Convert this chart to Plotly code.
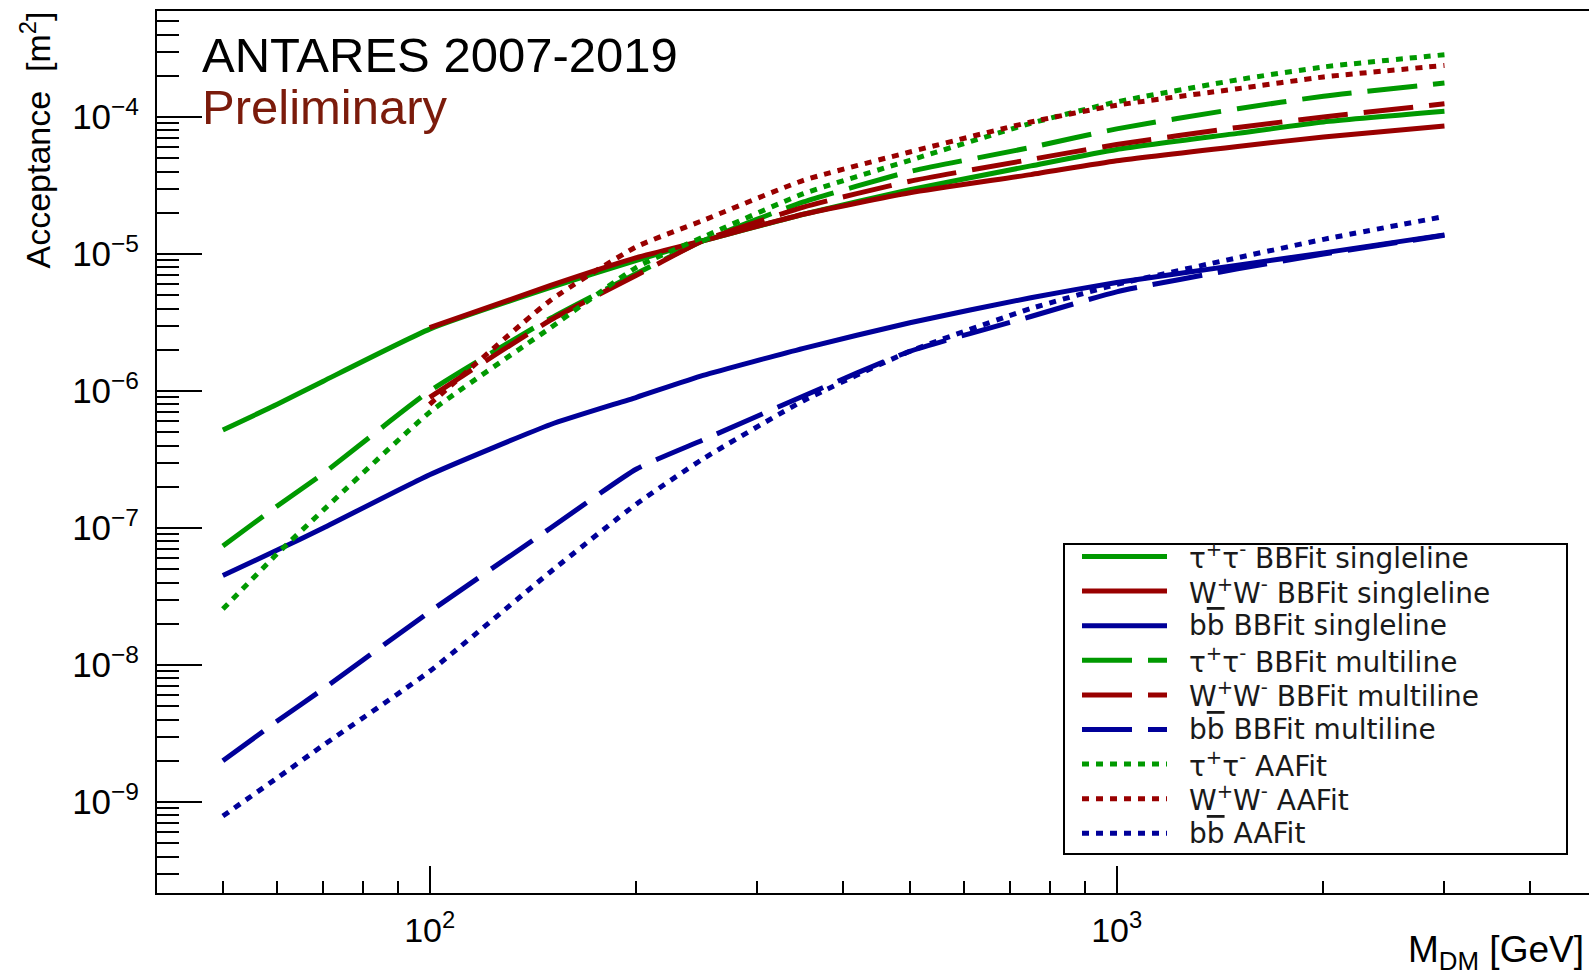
import math
import plotly.graph_objects as go

# Dark-matter mass grid [GeV]
mass_gev = [50, 60, 70, 100, 150, 200, 250, 350, 500, 750, 1000, 1500, 2000, 3000]

# Acceptance [m^2] per annihilation channel and reconstruction
tautau_bbfit_single = [5.2e-7, 8.0e-7, 1.18e-6, 2.83e-6, 5.7e-6, 9.0e-6, 1.25e-5, 1.95e-5, 2.95e-5, 4.4e-5, 5.8e-5, 7.6e-5, 9.2e-5, 1.1e-4]
ww_bbfit_single = [None, None, None, 2.9e-6, 5.9e-6, 9.4e-6, 1.25e-5, 1.95e-5, 2.8e-5, 3.8e-5, 4.8e-5, 6.1e-5, 7.15e-5, 8.6e-5]
bb_bbfit_single = [4.5e-8, 6.9e-8, 1.0e-7, 2.45e-7, 5.7e-7, 9.0e-7, 1.3e-6, 2.05e-6, 3.15e-6, 4.8e-6, 6.2e-6, 8.3e-6, 1.02e-5, 1.38e-5]
tautau_bbfit_multi = [7.4e-8, 1.45e-7, 2.5e-7, 1.0e-6, 3.4e-6, 7.2e-6, 1.25e-5, 2.4e-5, 4.0e-5, 6.0e-5, 8.2e-5, 1.15e-4, 1.42e-4, 1.77e-4]
ww_bbfit_multi = [None, None, None, 9.0e-7, 3.3e-6, 7.0e-6, 1.25e-5, 2.2e-5, 3.4e-5, 4.9e-5, 6.3e-5, 8.4e-5, 1.0e-4, 1.25e-4]
bb_bbfit_multi = [2.0e-9, 3.9e-9, 6.7e-9, 2.45e-8, 1.0e-7, 2.7e-7, 4.4e-7, 9.2e-7, 1.95e-6, 3.5e-6, 5.3e-6, 7.8e-6, 1.0e-5, 1.37e-5]
tautau_aafit = [2.56e-8, 6.5e-8, 1.35e-7, 7.0e-7, 2.9e-6, 8.0e-6, 1.33e-5, 2.76e-5, 4.83e-5, 9.0e-5, 1.29e-4, 1.87e-4, 2.32e-4, 2.85e-4]
ww_aafit = [None, None, None, 8.0e-7, 4.6e-6, 1.13e-5, 1.76e-5, 3.45e-5, 5.56e-5, 9.2e-5, 1.22e-4, 1.61e-4, 1.96e-4, 2.38e-4]
bb_aafit = [7.9e-10, 1.5e-9, 2.6e-9, 9.0e-9, 4.8e-8, 1.5e-7, 3.2e-7, 8.5e-7, 1.95e-6, 4.0e-6, 6.0e-6, 9.4e-6, 1.28e-5, 1.88e-5]

# Axis tick labels
x_major = [100, 1000]
x_major_text = ["10<sup>2</sup>", "10<sup>3</sup>"]
y_major = [1e-9, 1e-8, 1e-7, 1e-6, 1e-5, 1e-4]
y_major_text = ["10<sup>\u22129</sup>", "10<sup>\u22128</sup>", "10<sup>\u22127</sup>",
                "10<sup>\u22126</sup>", "10<sup>\u22125</sup>", "10<sup>\u22124</sup>"]

# Page and frame geometry (pixels)
W, H = 1589, 978
PLOT_L, PLOT_T, PLOT_B = 157, 11, 893
PLOT_W = W - PLOT_L
PLOT_H = PLOT_B - PLOT_T


def px_x(px):
    return (px - PLOT_L) / PLOT_W


def px_y(py):
    return (PLOT_B - py) / PLOT_H


GREEN, RED, BLUE = "#009900", "#990000", "#000099"
SOLID, DASHED, DOTTED = "solid", "50px,16px", "7px,7px"
FONT = "Liberation Sans, Arial, Helvetica, sans-serif"
LEG_FONT = "DejaVu Sans, Liberation Sans, sans-serif"
BBAR = "b<span style='text-decoration:overline'>b</span>"

series = [
    ("\u03c4<sup>+</sup>\u03c4<sup>-</sup> BBFit singleline", tautau_bbfit_single, GREEN, SOLID),
    ("W<sup>+</sup>W<sup>-</sup> BBFit singleline", ww_bbfit_single, RED, SOLID),
    (BBAR + " BBFit singleline", bb_bbfit_single, BLUE, SOLID),
    ("\u03c4<sup>+</sup>\u03c4<sup>-</sup> BBFit multiline", tautau_bbfit_multi, GREEN, DASHED),
    ("W<sup>+</sup>W<sup>-</sup> BBFit multiline", ww_bbfit_multi, RED, DASHED),
    (BBAR + " BBFit multiline", bb_bbfit_multi, BLUE, DASHED),
    ("\u03c4<sup>+</sup>\u03c4<sup>-</sup> AAFit", tautau_aafit, GREEN, DOTTED),
    ("W<sup>+</sup>W<sup>-</sup> AAFit", ww_aafit, RED, DOTTED),
    (BBAR + " AAFit", bb_aafit, BLUE, DOTTED),
]

fig = go.Figure()
for name, vals, color, dash in series:
    fig.add_trace(go.Scatter(
        x=mass_gev, y=vals, mode="lines", name=name, showlegend=False,
        line=dict(color=color, width=5, dash=dash, shape="spline", smoothing=0.5),
    ))

# log-axis ranges (log10 units)
x_lo = 1.6031
x_hi = x_lo + PLOT_W / 687.0
y_lo = -9.664
y_hi = y_lo + PLOT_H / 137.0

x_minor = [50, 60, 70, 80, 90, 200, 300, 400, 500, 600, 700, 800, 900, 2000, 3000, 4000]
y_minor = [k * 10.0 ** e for e in range(-10, -3) for k in range(2, 10)
           if y_lo < (e + math.log10(k)) < y_hi]

fig.update_xaxes(
    type="log", range=[x_lo, x_hi], showgrid=False, zeroline=False,
    showline=True, linecolor="black", linewidth=2, mirror=True,
    ticks="inside", ticklen=27, tickwidth=2, tickcolor="black",
    tickmode="array", tickvals=x_major, ticktext=x_major_text,
    tickfont=dict(family=FONT, size=34, color="black"),
    ticklabelstandoff=6,
    minor=dict(tickmode="array", tickvals=x_minor, ticks="inside", ticklen=12,
               tickwidth=2, tickcolor="black", showgrid=False),
)
fig.update_yaxes(
    type="log", range=[y_lo, y_hi], showgrid=False, zeroline=False,
    showline=True, linecolor="black", linewidth=2, mirror=False,
    ticks="inside", ticklen=45, tickwidth=2, tickcolor="black",
    tickmode="array", tickvals=y_major, ticktext=y_major_text,
    tickfont=dict(family=FONT, size=35, color="black"),
    ticklabelstandoff=9,
    minor=dict(tickmode="array", tickvals=y_minor, ticks="inside", ticklen=22,
               tickwidth=2, tickcolor="black", showgrid=False),
)

annotations = [
    dict(text="ANTARES 2007-2019", x=px_x(200), y=px_y(55), xanchor="left", yanchor="middle",
         font=dict(family=FONT, size=49, color="black")),
    dict(text="Preliminary", x=px_x(200), y=px_y(107), xanchor="left", yanchor="middle",
         font=dict(family=FONT, size=49, color="#7b1b0b")),
    dict(text="Acceptance\u00a0\u00a0[m<sup>2</sup>]", textangle=-90, x=px_x(35), y=px_y(10),
         xanchor="center", yanchor="top", font=dict(family=FONT, size=34, color="black")),
    dict(text="M<sub>DM</sub> [GeV]", x=px_x(1586), y=px_y(952), xanchor="right", yanchor="middle",
         font=dict(family=FONT, size=37, color="black")),
]

# legend box
LEG_X0, LEG_X1, LEG_Y0, LEG_Y1 = 1064, 1567, 544, 854
ROW0, ROW_STEP = 556.5, 34.6
SAMPLE_X0, SAMPLE_X1, TEXT_X = 1082, 1167, 1187
shapes = [dict(type="rect", xref="paper", yref="paper", layer="above",
               x0=px_x(LEG_X0), x1=px_x(LEG_X1), y0=px_y(LEG_Y1), y1=px_y(LEG_Y0),
               line=dict(color="black", width=2), fillcolor="white")]
for i, (name, _vals, color, dash) in enumerate(series):
    ry = ROW0 + ROW_STEP * i
    shapes.append(dict(type="line", xref="paper", yref="paper", layer="above",
                       x0=px_x(SAMPLE_X0), x1=px_x(SAMPLE_X1), y0=px_y(ry), y1=px_y(ry),
                       line=dict(color=color, width=5, dash=dash)))
    annotations.append(dict(text=name, x=px_x(TEXT_X), y=px_y(ry), xanchor="left", yanchor="middle",
                            font=dict(family=LEG_FONT, size=28, color="#1a1a1a")))

for a in annotations:
    a.update(xref="paper", yref="paper", showarrow=False)

fig.update_layout(
    width=W, height=H,
    margin=dict(l=PLOT_L, r=0, t=PLOT_T, b=H - PLOT_B, autoexpand=False),
    paper_bgcolor="white", plot_bgcolor="white",
    annotations=annotations, shapes=shapes,
    showlegend=False,
)

fig.write_html("out.html")
